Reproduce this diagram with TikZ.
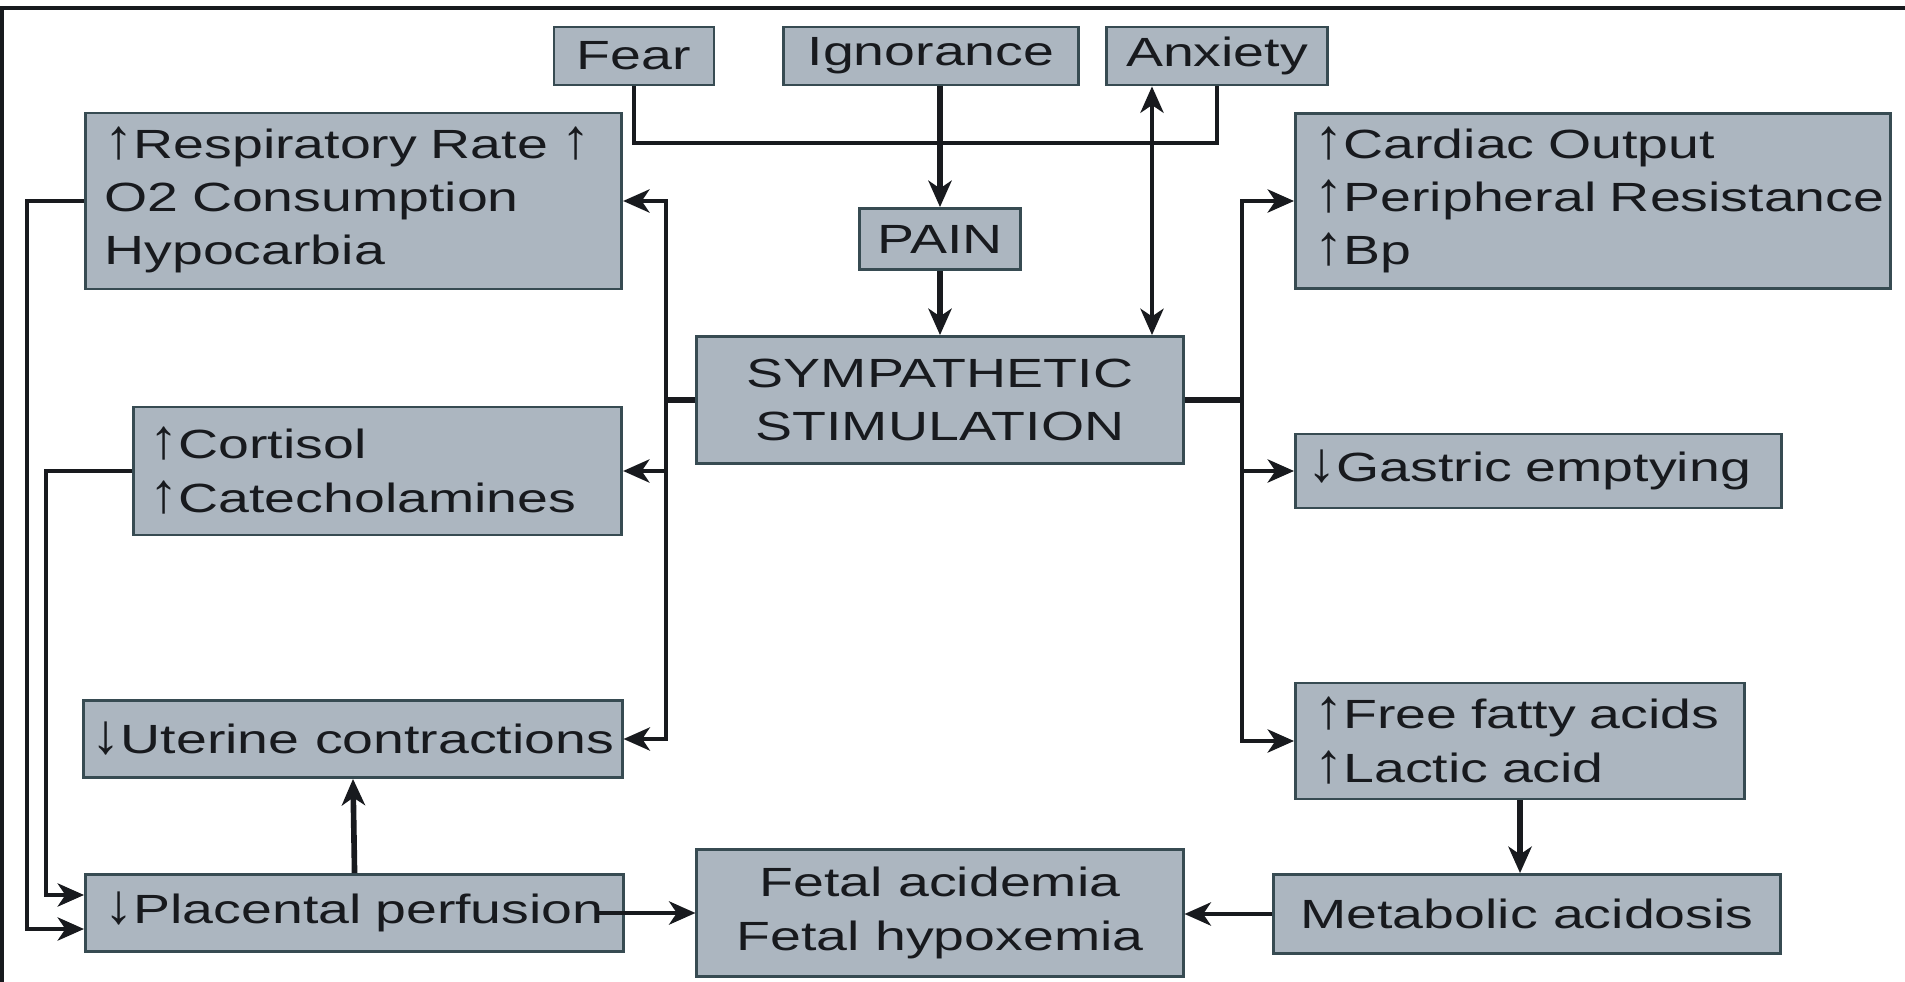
\documentclass[tikz,border=0pt]{standalone}
\usepackage{fontspec}
\setmainfont[FakeStretch=1.36]{Liberation Sans}
\usetikzlibrary{arrows.meta}
\definecolor{boxfill}{RGB}{172,182,192}
\definecolor{boxline}{RGB}{55,75,82}
\definecolor{ink}{RGB}{24,26,30}
\newcommand{\upa}{\smash{\scalebox{1.05}[1.38]{↑}}}
\newcommand{\dna}{\smash{\scalebox{1.05}[1.38]{↓}}}
\begin{document}
\begin{tikzpicture}[x=0.01cm,y=-0.01cm,
  box/.style={draw=boxline, fill=boxfill, line width=0.8pt, text=ink,
    font=\fontsize{11.6}{15.2}\selectfont, inner sep=0pt, align=center},
  lbox/.style={box, align=left, anchor=west, inner xsep=0.19cm},
  conn/.style={draw=ink, line width=1.15pt},
  thickconn/.style={draw=ink, line width=1.6pt},
  thinconn/.style={draw=ink, line width=0.95pt},
  tip/.tip={Stealth[length=7.5pt,width=6.6pt,inset=2.2pt]},
  arr/.style={conn, -tip},
]
\useasboundingbox (0,0) rectangle (1905,982);
\fill[white] (0,0) rectangle (1905,982);
\draw[line width=1.3pt, draw=ink] (2,982) -- (2,8) -- (1905,8);

% nodes
\node[box, minimum width=1.60cm, minimum height=0.58cm] (fear) at (634,56) {Fear};
\node[box, minimum width=2.95cm, minimum height=0.58cm] (ign) at (931,56) {Ignorance};
\node[box, minimum width=2.21cm, minimum height=0.58cm] (anx) at (1217,56) {Anxiety};
\node[lbox, text width=4.98cm, minimum height=1.76cm] (resp) at (84,201)
  {\mbox{\upa Respiratory Rate \upa}\\\mbox{O2 Consumption}\\\mbox{Hypocarbia}};
\node[lbox, text width=5.57cm, minimum height=1.75cm] (card) at (1294,201)
  {\mbox{\upa Cardiac Output}\\\mbox{\upa Peripheral Resistance}\\\mbox{\upa Bp}};
\node[box, minimum width=1.61cm, minimum height=0.61cm] (pain) at (940,239) {PAIN};
\node[box, minimum width=4.86cm, minimum height=1.27cm] (symp) at (940,400)
  {SYMPATHETIC\\STIMULATION};
\node[lbox, inner xsep=0.16cm, text width=4.56cm, minimum height=1.28cm] (cort) at (132,471)
  {\mbox{\upa Cortisol}\\\mbox{\upa Catecholamines}};
\node[lbox, inner xsep=0.12cm, text width=4.62cm, minimum height=0.74cm] (gast) at (1294,471)
  {\mbox{\dna Gastric emptying}};
\node[box, minimum width=5.38cm, minimum height=0.77cm] (uter) at (353,739)
  {\mbox{\dna Uterine contractions}};
\node[lbox, text width=4.11cm, minimum height=1.16cm] (ffa) at (1294,741)
  {\mbox{\upa Free fatty acids}\\\mbox{\upa Lactic acid}};
\node[lbox, text width=5.0cm, minimum height=0.77cm] (plac) at (84,913)
  {\mbox{\dna Placental perfusion}};
\node[box, minimum width=4.86cm, minimum height=1.27cm] (fetal) at (940,913)
  {Fetal acidemia\\Fetal hypoxemia};
\node[box, minimum width=5.06cm, minimum height=0.79cm] (met) at (1527,914)
  {Metabolic acidosis};

% helper coordinates
\coordinate (fa) at (0,143);
\coordinate (dx) at (1152,0);
\coordinate (lb) at (666,0);
\coordinate (rb) at (1242,0);
\coordinate (ol) at (27,0);
\coordinate (il) at (46,0);

% connectors
\draw[thinconn] (fear.south) -- (fear.south |- fa) -- (anx.south |- fa) -- (anx.south);
\draw[thickconn, -tip] (pain.north |- ign.south) -- (pain.north);
\draw[thickconn, -tip] (pain.south) -- (pain.south |- symp.north);
\draw[conn, tip-tip] (anx.south -| dx) -- (symp.north -| dx);

\draw[thickconn] (symp.west) -- (symp.west -| lb);
\draw[arr] (symp.west -| lb) |- (resp.east);
\draw[arr] (symp.west -| lb) |- (cort.east);
\draw[arr] (symp.west -| lb) |- (uter.east);

\draw[thickconn] (symp.east) -- (symp.east -| rb);
\draw[arr] (symp.east -| rb) |- (card.west);
\draw[arr] (symp.east -| rb) |- (gast.west);
\draw[arr] (symp.east -| rb) |- (ffa.west);

\draw[thickconn, -tip] (ffa.south) -- (ffa.south |- met.north);
\draw[arr] (met.west) -- (met.west -| fetal.east);
\draw[arr] ([xshift=-0.27cm]plac.east) -- (plac.east -| fetal.west);
\draw[thickconn, -tip] (plac.north) -- (uter.south);

\draw[arr] (resp.west) -- (resp.west -| ol) |- ([yshift=-0.16cm]plac.west);
\draw[arr] (cort.west) -- (cort.west -| il) |- ([yshift=0.18cm]plac.west);
\end{tikzpicture}
\end{document}
